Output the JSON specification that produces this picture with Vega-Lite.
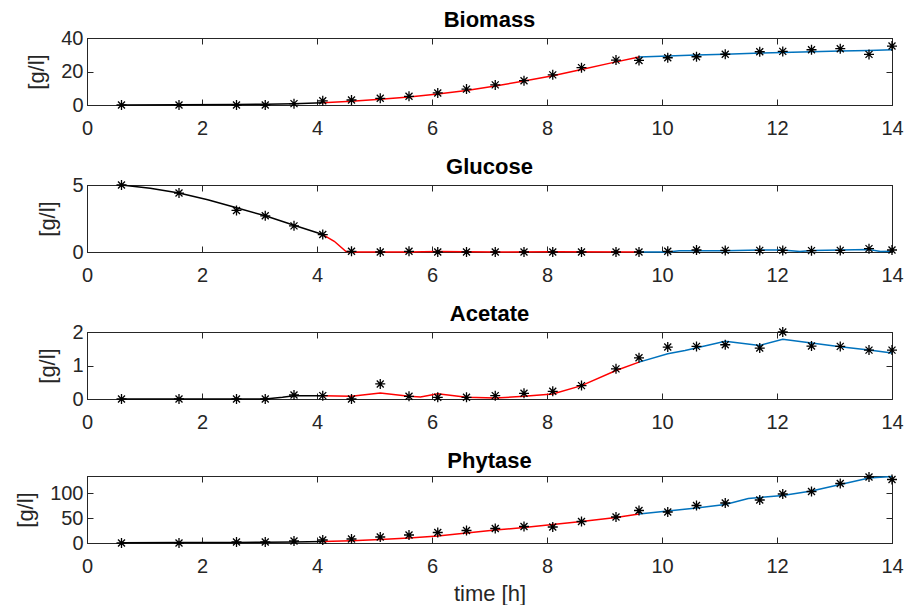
{
  "$schema": "https://vega.github.io/schema/vega-lite/v6.json",
  "background": "white",
  "padding": {"left": 14, "top": 8, "right": 0, "bottom": 0},
  "spacing": 16,
  "config": {
    "font": "Liberation Sans",
    "view": {"stroke": "#262626", "strokeWidth": 1},
    "axis": {
      "grid": false,
      "domainColor": "#262626",
      "tickColor": "#262626",
      "labelColor": "#262626",
      "titleColor": "#262626",
      "labelFont": "Liberation Sans",
      "titleFont": "Liberation Sans",
      "labelFontSize": 20,
      "titleFontSize": 22,
      "titleFontWeight": "normal",
      "tickSize": -6,
      "labelFlush": false,
      "format": "d"
    },
    "axisX": {"labelPadding": 19, "titlePadding": 7},
    "axisY": {"labelPadding": 10, "titlePadding": 12},
    "title": {"font": "Liberation Sans", "fontSize": 22, "fontWeight": "bold", "color": "#000000", "offset": -4, "anchor": "middle"}
  },
  "datasets": {
    "obs": [
      {"variable": "Biomass", "time": 0.6, "value": 0}, {"variable": "Biomass", "time": 1.6, "value": 0}, {"variable": "Biomass", "time": 2.6, "value": 0}, {"variable": "Biomass", "time": 3.1, "value": 0}, {"variable": "Biomass", "time": 3.6, "value": 0.8}, {"variable": "Biomass", "time": 4.1, "value": 2.5}, {"variable": "Biomass", "time": 4.6, "value": 3.0}, {"variable": "Biomass", "time": 5.1, "value": 4.0}, {"variable": "Biomass", "time": 5.6, "value": 5.2}, {"variable": "Biomass", "time": 6.1, "value": 7.2}, {"variable": "Biomass", "time": 6.6, "value": 9.5}, {"variable": "Biomass", "time": 7.1, "value": 12.0}, {"variable": "Biomass", "time": 7.6, "value": 14.5}, {"variable": "Biomass", "time": 8.1, "value": 18.0}, {"variable": "Biomass", "time": 8.6, "value": 22.3}, {"variable": "Biomass", "time": 9.2, "value": 26.8}, {"variable": "Biomass", "time": 9.6, "value": 26.6}, {"variable": "Biomass", "time": 10.1, "value": 28.2}, {"variable": "Biomass", "time": 10.6, "value": 28.8}, {"variable": "Biomass", "time": 11.1, "value": 30.3}, {"variable": "Biomass", "time": 11.7, "value": 31.8}, {"variable": "Biomass", "time": 12.1, "value": 32.0}, {"variable": "Biomass", "time": 12.6, "value": 33.0}, {"variable": "Biomass", "time": 13.1, "value": 33.6}, {"variable": "Biomass", "time": 13.6, "value": 30.2}, {"variable": "Biomass", "time": 14.0, "value": 35.2},
      {"variable": "Glucose", "time": 0.6, "value": 5.0}, {"variable": "Glucose", "time": 1.6, "value": 4.4}, {"variable": "Glucose", "time": 2.6, "value": 3.1}, {"variable": "Glucose", "time": 3.1, "value": 2.7}, {"variable": "Glucose", "time": 3.6, "value": 1.95}, {"variable": "Glucose", "time": 4.1, "value": 1.3}, {"variable": "Glucose", "time": 4.6, "value": 0.05}, {"variable": "Glucose", "time": 5.1, "value": 0}, {"variable": "Glucose", "time": 5.6, "value": 0.05}, {"variable": "Glucose", "time": 6.1, "value": 0}, {"variable": "Glucose", "time": 6.6, "value": 0}, {"variable": "Glucose", "time": 7.1, "value": 0}, {"variable": "Glucose", "time": 7.6, "value": 0}, {"variable": "Glucose", "time": 8.1, "value": 0}, {"variable": "Glucose", "time": 8.6, "value": 0}, {"variable": "Glucose", "time": 9.2, "value": 0}, {"variable": "Glucose", "time": 9.6, "value": 0}, {"variable": "Glucose", "time": 10.1, "value": 0.05}, {"variable": "Glucose", "time": 10.6, "value": 0.15}, {"variable": "Glucose", "time": 11.1, "value": 0.12}, {"variable": "Glucose", "time": 11.7, "value": 0.12}, {"variable": "Glucose", "time": 12.1, "value": 0.12}, {"variable": "Glucose", "time": 12.6, "value": 0.1}, {"variable": "Glucose", "time": 13.1, "value": 0.12}, {"variable": "Glucose", "time": 13.6, "value": 0.25}, {"variable": "Glucose", "time": 14.0, "value": 0.15},
      {"variable": "Acetate", "time": 0.6, "value": 0}, {"variable": "Acetate", "time": 1.6, "value": 0}, {"variable": "Acetate", "time": 2.6, "value": 0}, {"variable": "Acetate", "time": 3.1, "value": 0}, {"variable": "Acetate", "time": 3.6, "value": 0.12}, {"variable": "Acetate", "time": 4.1, "value": 0.1}, {"variable": "Acetate", "time": 4.6, "value": 0}, {"variable": "Acetate", "time": 5.1, "value": 0.45}, {"variable": "Acetate", "time": 5.6, "value": 0.08}, {"variable": "Acetate", "time": 6.1, "value": 0.05}, {"variable": "Acetate", "time": 6.6, "value": 0.05}, {"variable": "Acetate", "time": 7.1, "value": 0.1}, {"variable": "Acetate", "time": 7.6, "value": 0.17}, {"variable": "Acetate", "time": 8.1, "value": 0.23}, {"variable": "Acetate", "time": 8.6, "value": 0.4}, {"variable": "Acetate", "time": 9.2, "value": 0.9}, {"variable": "Acetate", "time": 9.6, "value": 1.23}, {"variable": "Acetate", "time": 10.1, "value": 1.55}, {"variable": "Acetate", "time": 10.6, "value": 1.57}, {"variable": "Acetate", "time": 11.1, "value": 1.62}, {"variable": "Acetate", "time": 11.7, "value": 1.52}, {"variable": "Acetate", "time": 12.1, "value": 2.0}, {"variable": "Acetate", "time": 12.6, "value": 1.58}, {"variable": "Acetate", "time": 13.1, "value": 1.57}, {"variable": "Acetate", "time": 13.6, "value": 1.46}, {"variable": "Acetate", "time": 14.0, "value": 1.46},
      {"variable": "Phytase", "time": 0.6, "value": 0}, {"variable": "Phytase", "time": 1.6, "value": 0}, {"variable": "Phytase", "time": 2.6, "value": 2}, {"variable": "Phytase", "time": 3.1, "value": 2}, {"variable": "Phytase", "time": 3.6, "value": 4}, {"variable": "Phytase", "time": 4.1, "value": 6}, {"variable": "Phytase", "time": 4.6, "value": 8}, {"variable": "Phytase", "time": 5.1, "value": 12}, {"variable": "Phytase", "time": 5.6, "value": 16}, {"variable": "Phytase", "time": 6.1, "value": 21}, {"variable": "Phytase", "time": 6.6, "value": 25}, {"variable": "Phytase", "time": 7.1, "value": 29}, {"variable": "Phytase", "time": 7.6, "value": 33}, {"variable": "Phytase", "time": 8.1, "value": 32}, {"variable": "Phytase", "time": 8.6, "value": 43}, {"variable": "Phytase", "time": 9.2, "value": 52}, {"variable": "Phytase", "time": 9.6, "value": 65}, {"variable": "Phytase", "time": 10.1, "value": 62}, {"variable": "Phytase", "time": 10.6, "value": 75}, {"variable": "Phytase", "time": 11.1, "value": 80}, {"variable": "Phytase", "time": 11.7, "value": 86}, {"variable": "Phytase", "time": 12.1, "value": 98}, {"variable": "Phytase", "time": 12.6, "value": 103}, {"variable": "Phytase", "time": 13.1, "value": 119}, {"variable": "Phytase", "time": 13.6, "value": 132}, {"variable": "Phytase", "time": 14.0, "value": 127}
    ],
    "model": [
      {"variable": "Biomass", "phase": "p1", "time": 0.6, "value": 0.0}, {"variable": "Biomass", "phase": "p1", "time": 1.6, "value": 0.1}, {"variable": "Biomass", "phase": "p1", "time": 2.6, "value": 0.3}, {"variable": "Biomass", "phase": "p1", "time": 3.1, "value": 0.5}, {"variable": "Biomass", "phase": "p1", "time": 3.6, "value": 0.8}, {"variable": "Biomass", "phase": "p1", "time": 4.1, "value": 1.3},
      {"variable": "Biomass", "phase": "p2", "time": 4.1, "value": 1.3}, {"variable": "Biomass", "phase": "p2", "time": 4.6, "value": 2.2}, {"variable": "Biomass", "phase": "p2", "time": 5.1, "value": 3.4}, {"variable": "Biomass", "phase": "p2", "time": 5.6, "value": 4.8}, {"variable": "Biomass", "phase": "p2", "time": 6.1, "value": 6.5}, {"variable": "Biomass", "phase": "p2", "time": 6.6, "value": 8.7}, {"variable": "Biomass", "phase": "p2", "time": 7.1, "value": 11.3}, {"variable": "Biomass", "phase": "p2", "time": 7.6, "value": 14.3}, {"variable": "Biomass", "phase": "p2", "time": 8.1, "value": 17.5}, {"variable": "Biomass", "phase": "p2", "time": 8.6, "value": 21.2}, {"variable": "Biomass", "phase": "p2", "time": 9.1, "value": 25.0}, {"variable": "Biomass", "phase": "p2", "time": 9.6, "value": 28.6},
      {"variable": "Biomass", "phase": "p3", "time": 9.6, "value": 28.6}, {"variable": "Biomass", "phase": "p3", "time": 10.1, "value": 29.3}, {"variable": "Biomass", "phase": "p3", "time": 10.6, "value": 29.8}, {"variable": "Biomass", "phase": "p3", "time": 11.1, "value": 30.3}, {"variable": "Biomass", "phase": "p3", "time": 11.6, "value": 30.9}, {"variable": "Biomass", "phase": "p3", "time": 12.1, "value": 31.3}, {"variable": "Biomass", "phase": "p3", "time": 12.6, "value": 31.8}, {"variable": "Biomass", "phase": "p3", "time": 13.1, "value": 32.2}, {"variable": "Biomass", "phase": "p3", "time": 13.6, "value": 32.6}, {"variable": "Biomass", "phase": "p3", "time": 14.0, "value": 33.0},
      {"variable": "Glucose", "phase": "p1", "time": 0.6, "value": 5.0}, {"variable": "Glucose", "phase": "p1", "time": 1.1, "value": 4.75}, {"variable": "Glucose", "phase": "p1", "time": 1.6, "value": 4.4}, {"variable": "Glucose", "phase": "p1", "time": 2.1, "value": 3.9}, {"variable": "Glucose", "phase": "p1", "time": 2.6, "value": 3.3}, {"variable": "Glucose", "phase": "p1", "time": 3.1, "value": 2.7}, {"variable": "Glucose", "phase": "p1", "time": 3.6, "value": 2.0}, {"variable": "Glucose", "phase": "p1", "time": 4.1, "value": 1.3},
      {"variable": "Glucose", "phase": "p2", "time": 4.1, "value": 1.3}, {"variable": "Glucose", "phase": "p2", "time": 4.3, "value": 0.8}, {"variable": "Glucose", "phase": "p2", "time": 4.5, "value": 0.05}, {"variable": "Glucose", "phase": "p2", "time": 4.6, "value": 0.0}, {"variable": "Glucose", "phase": "p2", "time": 5.6, "value": 0.0}, {"variable": "Glucose", "phase": "p2", "time": 6.1, "value": 0.03}, {"variable": "Glucose", "phase": "p2", "time": 7.1, "value": 0.0}, {"variable": "Glucose", "phase": "p2", "time": 8.1, "value": 0.02}, {"variable": "Glucose", "phase": "p2", "time": 9.6, "value": 0.0},
      {"variable": "Glucose", "phase": "p3", "time": 9.6, "value": 0.0}, {"variable": "Glucose", "phase": "p3", "time": 10.1, "value": 0.0}, {"variable": "Glucose", "phase": "p3", "time": 10.3, "value": 0.1}, {"variable": "Glucose", "phase": "p3", "time": 11.1, "value": 0.1}, {"variable": "Glucose", "phase": "p3", "time": 11.7, "value": 0.15}, {"variable": "Glucose", "phase": "p3", "time": 12.1, "value": 0.15}, {"variable": "Glucose", "phase": "p3", "time": 12.4, "value": 0.03}, {"variable": "Glucose", "phase": "p3", "time": 12.6, "value": 0.12}, {"variable": "Glucose", "phase": "p3", "time": 13.1, "value": 0.15}, {"variable": "Glucose", "phase": "p3", "time": 13.6, "value": 0.18}, {"variable": "Glucose", "phase": "p3", "time": 13.8, "value": 0.03}, {"variable": "Glucose", "phase": "p3", "time": 14.0, "value": 0.05},
      {"variable": "Acetate", "phase": "p1", "time": 0.6, "value": 0.0}, {"variable": "Acetate", "phase": "p1", "time": 3.1, "value": 0.0}, {"variable": "Acetate", "phase": "p1", "time": 3.4, "value": 0.05}, {"variable": "Acetate", "phase": "p1", "time": 3.6, "value": 0.1}, {"variable": "Acetate", "phase": "p1", "time": 4.1, "value": 0.1},
      {"variable": "Acetate", "phase": "p2", "time": 4.1, "value": 0.1}, {"variable": "Acetate", "phase": "p2", "time": 4.6, "value": 0.08}, {"variable": "Acetate", "phase": "p2", "time": 5.1, "value": 0.18}, {"variable": "Acetate", "phase": "p2", "time": 5.6, "value": 0.08}, {"variable": "Acetate", "phase": "p2", "time": 5.8, "value": 0.06}, {"variable": "Acetate", "phase": "p2", "time": 6.1, "value": 0.16}, {"variable": "Acetate", "phase": "p2", "time": 6.6, "value": 0.05}, {"variable": "Acetate", "phase": "p2", "time": 7.1, "value": 0.03}, {"variable": "Acetate", "phase": "p2", "time": 7.6, "value": 0.08}, {"variable": "Acetate", "phase": "p2", "time": 8.1, "value": 0.15}, {"variable": "Acetate", "phase": "p2", "time": 8.6, "value": 0.4}, {"variable": "Acetate", "phase": "p2", "time": 9.2, "value": 0.85}, {"variable": "Acetate", "phase": "p2", "time": 9.6, "value": 1.1},
      {"variable": "Acetate", "phase": "p3", "time": 9.6, "value": 1.1}, {"variable": "Acetate", "phase": "p3", "time": 10.1, "value": 1.35}, {"variable": "Acetate", "phase": "p3", "time": 10.4, "value": 1.45}, {"variable": "Acetate", "phase": "p3", "time": 11.1, "value": 1.72}, {"variable": "Acetate", "phase": "p3", "time": 11.7, "value": 1.6}, {"variable": "Acetate", "phase": "p3", "time": 12.1, "value": 1.78}, {"variable": "Acetate", "phase": "p3", "time": 12.6, "value": 1.67}, {"variable": "Acetate", "phase": "p3", "time": 13.1, "value": 1.56}, {"variable": "Acetate", "phase": "p3", "time": 13.6, "value": 1.46}, {"variable": "Acetate", "phase": "p3", "time": 14.0, "value": 1.37},
      {"variable": "Phytase", "phase": "p1", "time": 0.6, "value": 0.5}, {"variable": "Phytase", "phase": "p1", "time": 1.6, "value": 0.8}, {"variable": "Phytase", "phase": "p1", "time": 2.6, "value": 1.2}, {"variable": "Phytase", "phase": "p1", "time": 3.1, "value": 1.5}, {"variable": "Phytase", "phase": "p1", "time": 3.6, "value": 2.0}, {"variable": "Phytase", "phase": "p1", "time": 4.1, "value": 3.0},
      {"variable": "Phytase", "phase": "p2", "time": 4.1, "value": 3.0}, {"variable": "Phytase", "phase": "p2", "time": 4.6, "value": 4.5}, {"variable": "Phytase", "phase": "p2", "time": 5.1, "value": 7}, {"variable": "Phytase", "phase": "p2", "time": 5.6, "value": 10}, {"variable": "Phytase", "phase": "p2", "time": 6.1, "value": 14}, {"variable": "Phytase", "phase": "p2", "time": 6.6, "value": 20}, {"variable": "Phytase", "phase": "p2", "time": 7.1, "value": 26}, {"variable": "Phytase", "phase": "p2", "time": 7.6, "value": 31}, {"variable": "Phytase", "phase": "p2", "time": 8.1, "value": 37}, {"variable": "Phytase", "phase": "p2", "time": 8.6, "value": 43}, {"variable": "Phytase", "phase": "p2", "time": 9.2, "value": 51}, {"variable": "Phytase", "phase": "p2", "time": 9.6, "value": 58},
      {"variable": "Phytase", "phase": "p3", "time": 9.6, "value": 58}, {"variable": "Phytase", "phase": "p3", "time": 10.1, "value": 64}, {"variable": "Phytase", "phase": "p3", "time": 10.6, "value": 70}, {"variable": "Phytase", "phase": "p3", "time": 11.1, "value": 77}, {"variable": "Phytase", "phase": "p3", "time": 11.5, "value": 89}, {"variable": "Phytase", "phase": "p3", "time": 11.7, "value": 91}, {"variable": "Phytase", "phase": "p3", "time": 12.1, "value": 95}, {"variable": "Phytase", "phase": "p3", "time": 12.6, "value": 104}, {"variable": "Phytase", "phase": "p3", "time": 13.1, "value": 117}, {"variable": "Phytase", "phase": "p3", "time": 13.6, "value": 130}, {"variable": "Phytase", "phase": "p3", "time": 14.0, "value": 133}
    ]
  },
  "vconcat": [
    {
      "title": "Biomass", "width": 805, "height": 67,
      "layer": [
        {"data": {"name": "model"}, "transform": [{"filter": "datum.variable === 'Biomass'"}],
         "mark": {"type": "line", "strokeWidth": 1.5},
         "encoding": {
           "x": {"field": "time", "type": "quantitative", "scale": {"domain": [0, 14], "nice": false}, "axis": {"orient": "bottom", "values": [0, 2, 4, 6, 8, 10, 12, 14], "title": null}},
           "y": {"field": "value", "type": "quantitative", "scale": {"domain": [0, 40], "nice": false}, "axis": {"orient": "left", "values": [0, 20, 40], "title": "[g/l]"}},
           "color": {"field": "phase", "type": "nominal", "scale": {"domain": ["p1", "p2", "p3"], "range": ["#000000", "#FF0000", "#0072BD"]}, "legend": null}
         }},
        {"data": {"name": "obs"}, "transform": [{"filter": "datum.variable === 'Biomass'"}],
         "mark": {"type": "point", "shape": "M-1,0L1,0M0,-1L0,1M-0.7,-0.7L0.7,0.7M-0.7,0.7L0.7,-0.7", "filled": false, "stroke": "#000000", "strokeWidth": 1.3, "size": 100, "opacity": 1},
         "encoding": {
           "x": {"field": "time", "type": "quantitative", "axis": {"orient": "top", "values": [0, 2, 4, 6, 8, 10, 12, 14], "labels": false, "title": null}},
           "y": {"field": "value", "type": "quantitative", "axis": {"orient": "right", "values": [0, 20, 40], "labels": false, "title": null}}
         }}
      ],
      "resolve": {"axis": {"x": "independent", "y": "independent"}}
    },
    {
      "title": "Glucose", "width": 805, "height": 67,
      "layer": [
        {"data": {"name": "model"}, "transform": [{"filter": "datum.variable === 'Glucose'"}],
         "mark": {"type": "line", "strokeWidth": 1.5},
         "encoding": {
           "x": {"field": "time", "type": "quantitative", "scale": {"domain": [0, 14], "nice": false}, "axis": {"orient": "bottom", "values": [0, 2, 4, 6, 8, 10, 12, 14], "title": null}},
           "y": {"field": "value", "type": "quantitative", "scale": {"domain": [0, 5], "nice": false}, "axis": {"orient": "left", "values": [0, 5], "title": "[g/l]"}},
           "color": {"field": "phase", "type": "nominal", "scale": {"domain": ["p1", "p2", "p3"], "range": ["#000000", "#FF0000", "#0072BD"]}, "legend": null}
         }},
        {"data": {"name": "obs"}, "transform": [{"filter": "datum.variable === 'Glucose'"}],
         "mark": {"type": "point", "shape": "M-1,0L1,0M0,-1L0,1M-0.7,-0.7L0.7,0.7M-0.7,0.7L0.7,-0.7", "filled": false, "stroke": "#000000", "strokeWidth": 1.3, "size": 100, "opacity": 1},
         "encoding": {
           "x": {"field": "time", "type": "quantitative", "axis": {"orient": "top", "values": [0, 2, 4, 6, 8, 10, 12, 14], "labels": false, "title": null}},
           "y": {"field": "value", "type": "quantitative", "axis": {"orient": "right", "values": [0, 5], "labels": false, "title": null}}
         }}
      ],
      "resolve": {"axis": {"x": "independent", "y": "independent"}}
    },
    {
      "title": "Acetate", "width": 805, "height": 67,
      "layer": [
        {"data": {"name": "model"}, "transform": [{"filter": "datum.variable === 'Acetate'"}],
         "mark": {"type": "line", "strokeWidth": 1.5},
         "encoding": {
           "x": {"field": "time", "type": "quantitative", "scale": {"domain": [0, 14], "nice": false}, "axis": {"orient": "bottom", "values": [0, 2, 4, 6, 8, 10, 12, 14], "title": null}},
           "y": {"field": "value", "type": "quantitative", "scale": {"domain": [0, 2], "nice": false}, "axis": {"orient": "left", "values": [0, 1, 2], "title": "[g/l]"}},
           "color": {"field": "phase", "type": "nominal", "scale": {"domain": ["p1", "p2", "p3"], "range": ["#000000", "#FF0000", "#0072BD"]}, "legend": null}
         }},
        {"data": {"name": "obs"}, "transform": [{"filter": "datum.variable === 'Acetate'"}],
         "mark": {"type": "point", "shape": "M-1,0L1,0M0,-1L0,1M-0.7,-0.7L0.7,0.7M-0.7,0.7L0.7,-0.7", "filled": false, "stroke": "#000000", "strokeWidth": 1.3, "size": 100, "opacity": 1},
         "encoding": {
           "x": {"field": "time", "type": "quantitative", "axis": {"orient": "top", "values": [0, 2, 4, 6, 8, 10, 12, 14], "labels": false, "title": null}},
           "y": {"field": "value", "type": "quantitative", "axis": {"orient": "right", "values": [0, 1, 2], "labels": false, "title": null}}
         }}
      ],
      "resolve": {"axis": {"x": "independent", "y": "independent"}}
    },
    {
      "title": "Phytase", "width": 805, "height": 67,
      "layer": [
        {"data": {"name": "model"}, "transform": [{"filter": "datum.variable === 'Phytase'"}],
         "mark": {"type": "line", "strokeWidth": 1.5},
         "encoding": {
           "x": {"field": "time", "type": "quantitative", "scale": {"domain": [0, 14], "nice": false}, "axis": {"orient": "bottom", "values": [0, 2, 4, 6, 8, 10, 12, 14], "title": "time [h]"}},
           "y": {"field": "value", "type": "quantitative", "scale": {"domain": [0, 134], "nice": false}, "axis": {"orient": "left", "values": [0, 50, 100], "title": "[g/l]"}},
           "color": {"field": "phase", "type": "nominal", "scale": {"domain": ["p1", "p2", "p3"], "range": ["#000000", "#FF0000", "#0072BD"]}, "legend": null}
         }},
        {"data": {"name": "obs"}, "transform": [{"filter": "datum.variable === 'Phytase'"}],
         "mark": {"type": "point", "shape": "M-1,0L1,0M0,-1L0,1M-0.7,-0.7L0.7,0.7M-0.7,0.7L0.7,-0.7", "filled": false, "stroke": "#000000", "strokeWidth": 1.3, "size": 100, "opacity": 1},
         "encoding": {
           "x": {"field": "time", "type": "quantitative", "axis": {"orient": "top", "values": [0, 2, 4, 6, 8, 10, 12, 14], "labels": false, "title": null}},
           "y": {"field": "value", "type": "quantitative", "axis": {"orient": "right", "values": [0, 50, 100], "labels": false, "title": null}}
         }}
      ],
      "resolve": {"axis": {"x": "independent", "y": "independent"}}
    }
  ]
}
